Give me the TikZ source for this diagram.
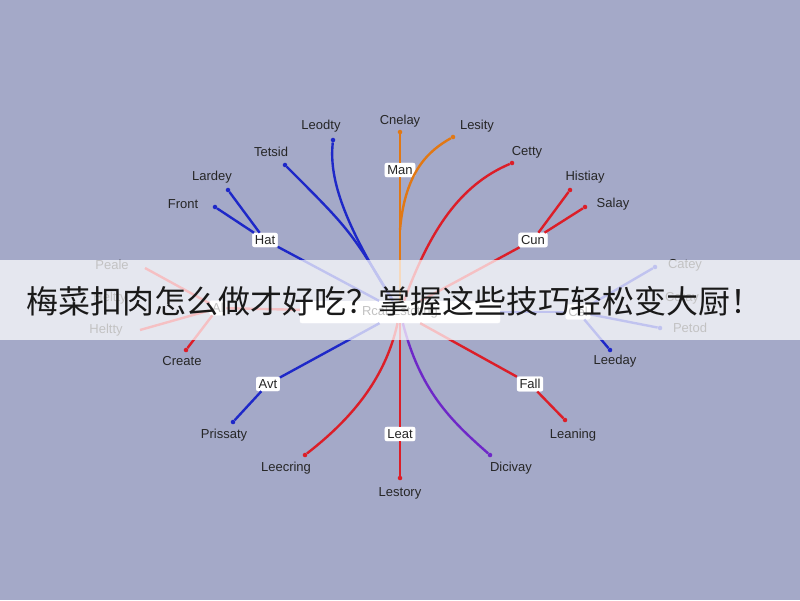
\documentclass[tikz,border=0pt]{standalone}
\usepackage{fontspec}
\setmainfont{Liberation Sans}
\newfontfamily\cjk{Noto Sans CJK SC}
\definecolor{bgcol}{RGB}{164,169,200}
\definecolor{bl}{RGB}{30,40,200}
\definecolor{rd}{RGB}{220,30,40}
\definecolor{orng}{RGB}{225,120,20}
\definecolor{purp}{RGB}{110,40,200}
\tikzset{
  lab/.style={font=\fontsize{13}{13}\selectfont, text=black!85},
  hub/.style={draw=white, fill=white, rounded corners=2pt, inner sep=2.5pt, font=\fontsize{13}{13}\selectfont, text=black!85},
  br/.style={line width=2.4pt},
  tip/.style={circle, fill, inner sep=1.6pt},
}
\begin{document}
\begin{tikzpicture}[x=1pt,y=-1pt]
\fill[bgcol] (0,0) rectangle (800,600);
\useasboundingbox (0,0) rectangle (800,600);

\node[hub, minimum width=200pt, minimum height=22pt] (c) at (400,312) {Rcal Estcting};

% upper left
\node[hub] (hat) at (265,240) {Hat};
\node[tip, bl] (e1) at (215,207) {};
\node[tip, bl] (e2) at (228,190) {};
\node[lab] (l1) at (183,204) {Front};
\node[lab] (l2) at (212,177) {Lardey};
\draw[br, bl] (c) -- (hat);
\draw[br, bl] (hat) -- (e1);
\draw[br, bl] (hat) -- (e2);
\node[tip, bl] (e3) at (285,165) {};
\node[lab] (l3) at (271,152) {Tetsid};
\draw[br, bl] (c) .. controls (350,230) .. (e3);
\node[tip, bl] (e4) at (333,140) {};
\node[lab] (l4) at (321,126) {Leodty};
\draw[br, bl] (c) .. controls (335,210) and (330,170) .. (e4);

% top
\node[hub] (man) at (400,170) {Man};
\node[tip, orng] (e5) at (400,132) {};
\node[lab] (l5) at (400,121) {Cnelay};
\node[tip, orng] (e6) at (453,137) {};
\node[lab] (l6) at (477,126) {Lesity};
\draw[br, orng] (c) -- (man) -- (e5);
\draw[br, orng] (400,230) .. controls (405,170) and (430,150) .. (e6);

% upper right
\node[tip, rd] (e7) at (512,163) {};
\node[lab] (l7) at (527,152) {Cetty};
\draw[br, rd] (c) .. controls (430,230) and (460,185) .. (e7);
\node[hub] (cun) at (533,240) {Cun};
\node[tip, rd] (e8) at (570,190) {};
\node[lab] (l8) at (585,177) {Histiay};
\node[tip, rd] (e9) at (585,207) {};
\node[lab] (l9) at (613,204) {Salay};
\draw[br, rd] (c) -- (cun);
\draw[br, rd] (cun) -- (e8);
\draw[br, rd] (cun) -- (e9);

% right
\node[hub] (rn) at (578,312) {Cel};
\node[tip, bl] (e10) at (655,267) {};
\node[lab] (l10) at (685,265) {Catey};
\node[lab] (l11) at (682,298) {Cetay};
\node[tip, bl] (e12) at (660,328) {};
\node[lab] (l12) at (690,328) {Petod};
\node[tip, bl] (e13) at (610,350) {};
\node[lab] (l13) at (615,361) {Leeday};
\draw[br, bl] (c) -- (rn);
\draw[br, bl] (rn) -- (e10);
\draw[br, bl] (rn) -- (e12);
\draw[br, bl] (rn) -- (e13);

% left
\node[hub] (ln) at (218,308) {Al};
\node[lab] (l14) at (112,265) {Peale};
\node[lab] (l15) at (110,298) {Heltty};
\node[lab] (l16) at (106,330) {Heltty};
\node[tip, rd] (e17) at (186,350) {};
\node[lab] (l17) at (182,361) {Create};
\draw[br, rd] (c) -- (ln);
\draw[br, rd] (ln) -- (145,268);
\draw[br, rd] (ln) -- (140,330);
\draw[br, rd] (ln) -- (e17);

% lower
\node[hub] (avt) at (268,384) {Avt};
\node[tip, bl] (e18) at (233,422) {};
\node[lab] (l18) at (224,435) {Prissaty};
\draw[br, bl] (c) -- (avt) -- (e18);
\node[tip, rd] (e19) at (305,455) {};
\node[lab] (l19) at (286,468) {Leecring};
\draw[br, rd] (c) .. controls (385,380) and (350,420) .. (e19);
\node[hub] (leat) at (400,434) {Leat};
\node[tip, rd] (e20) at (400,478) {};
\node[lab] (l20) at (400,493) {Lestory};
\draw[br, rd] (c) -- (leat) -- (e20);
\node[tip, purp] (e21) at (490,455) {};
\node[lab] (l21) at (511,468) {Dicivay};
\draw[br, purp] (c) .. controls (420,390) and (450,420) .. (e21);
\node[hub] (fall) at (530,384) {Fall};
\node[tip, rd] (e22) at (565,420) {};
\node[lab] (l22) at (573,435) {Leaning};
\draw[br, rd] (c) -- (fall) -- (e22);

% banner
\fill[white, opacity=0.72] (0,260) rectangle (800,340);
\node[font=\cjk\fontsize{32}{32}\selectfont, text=black!90] (title) at (395,301) {梅菜扣肉怎么做才好吃？掌握这些技巧轻松变大厨！};
\end{tikzpicture}
\end{document}
